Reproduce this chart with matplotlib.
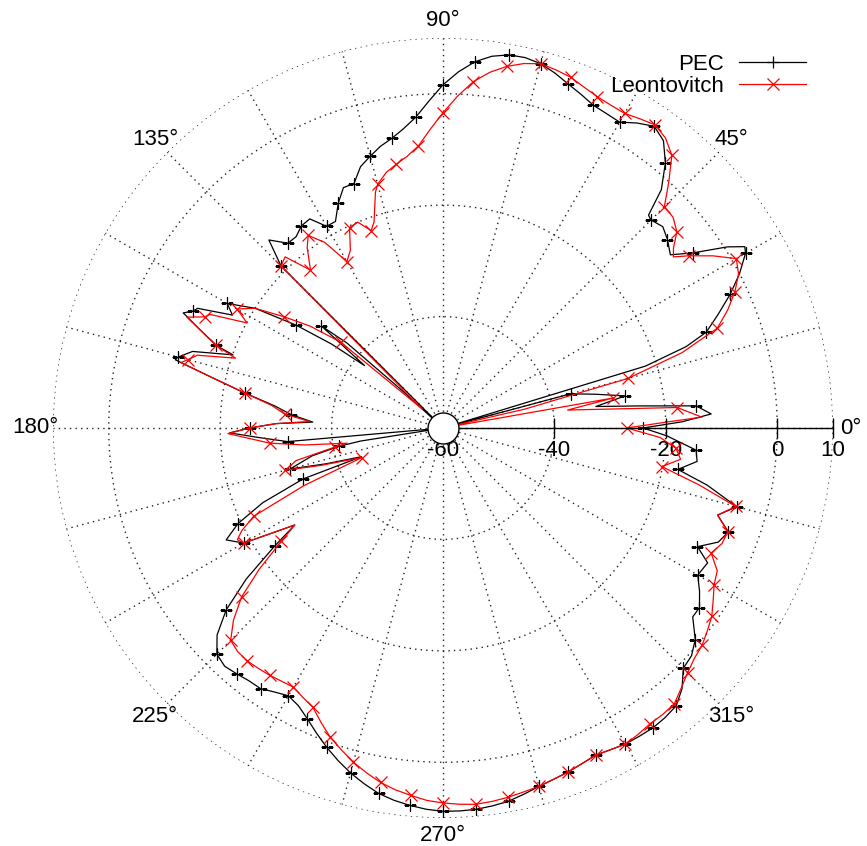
import numpy as np
import matplotlib
matplotlib.use("Agg")
import matplotlib.pyplot as plt
from matplotlib.lines import Line2D

# angle (deg) / level (dB)
pec_theta = [0, 1.5, 3, 5, 6.5, 8, 10, 12.5, 15, 16.5, 17, 18.5, 20, 22.5, 25, 27.5, 30, 31, 32.5, 35,
             37.3, 40, 42.5, 45, 46, 47.5, 50, 52.5, 55, 57.5, 60, 62.5, 65, 67.5, 70, 72.5, 75, 77.5,
             80, 82.5, 85, 87.5, 90, 92.5, 95, 97.5, 100, 102.5, 105, 107.5, 110, 112.5, 115, 117.5,
             120, 122.5, 125, 127.5, 130, 132.8, 135, 136, 137.5, 138.5, 140, 141.5, 143, 145, 147.5,
             150, 151.8, 154, 155, 156.1, 158, 160, 160.8, 163, 165, 165.7, 167.5, 170, 172.5, 175,
             177.4, 178.5, 180, 181.3, 183, 185, 187, 189, 190, 192, 195, 197, 199.4, 200, 202.5, 205,
             207.3, 210, 213.2, 215, 217.5, 220, 222.5, 225, 227.5, 230, 232.5, 235, 237.5, 240, 242.5,
             245, 247.5, 250, 252.5, 255, 257.5, 260, 262.5, 265, 267.5, 270, 272.5, 275, 277.5, 280,
             282.5, 285, 287.5, 290, 292.5, 295, 297.5, 300, 302.5, 305, 307.5, 310, 312.5, 315, 317.5,
             320, 322.9, 325, 327.5, 330, 333, 335, 337.5, 340, 342.4, 345, 347.8, 350, 352.5, 355,
             358, 360]
pec_db = [-24.1, -17, -11.8, -14.4, -25, -32.3, -26.8, -32, -36.3, -60, -22, -14, -9.7, -6.5, -3.1, 0, 2.7, 3.2, 0.5, -5.2,
          -8.7, -7.4, -6.5, -7.2, -6.9, -2, 2.1, 5, 6.1, 4.9, 3.4, 3.6, 3.9, 4.8, 5.7, 6.8, 7.7, 8.1,
          8.0, 7.3, 6.0, 4.0, 1.6, -1.3, -4.0, -5.8, -7.2, -8.2, -9.5, -10.8, -13.3, -13.3, -15.5, -18.2,
          -18.2, -15.5, -15.7, -16.7, -16.7, -14.0, -18.9, -60, -50, -37, -31.5, -42, -35, -27.8, -20,
          -15.3, -17.1, -11, -10.4, -9.0, -13, -16.7, -20.1, -13, -10.8, -10.4, -17, -23.9, -29.5, -32.7,
          -36.6, -30, -25.3, -21.7, -27, -32.0, -60, -45, -41, -36, -31.6, -38, -44.5, -33.3, -25, -19.4,
          -16.2, -18.7, -28.2, -23.2, -15.5, -9.2, -5, -2.6, -2, -2.4, -2.8, -2.9, -3.8, -4.5, -3.8,
          -2.4, -0.7, 1.0, 2.6, 4.1, 5.4, 6.6, 7.4, 8.0, 8.5, 8.8, 8.8, 8.7, 8.4, 8.0,
          7.3, 6.6, 6.1, 5.7, 5.2, 4.8, 5.1, 5.5, 5.6, 5.7, 5.5, 5.1, 3.5, 1.0, 0.5,
          -0.9, -3.8, -3.8, -5.4, -7.2, -6.7, -9.6, -6.5, -5.5, -8.3, -5.4, -11.5, -17.2, -14, -14.4,
          -19.8, -24.1]

leo_theta = [0, 1.5, 2.4, 5, 6.5, 8.2, 10, 12, 13, 15, 17.5, 20, 22.5, 25, 27.5, 30, 32.5, 35, 36.6, 38,
             40, 42.5, 45, 47.5, 50, 52.5, 55, 57.5, 60, 62.5, 65, 67.5, 70, 72.5, 75, 77.5, 80, 82.5,
             85, 87.5, 90, 92.5, 95, 97.5, 100, 102.5, 105, 106, 108.5, 110, 112.5, 115, 117.5, 120,
             122.5, 125, 127, 130, 132.7, 135, 137.5, 140, 142.5, 145, 147.5, 150, 151.8, 154, 155,
             156.6, 158, 160, 161.4, 163.5, 165, 166, 167.5, 170, 172.5, 175, 177.2, 178.5, 180, 181.5,
             183, 185, 187, 189, 190, 192.5, 195, 197, 200, 202.5, 205, 207, 208.5, 210, 213.2, 215,
             217.5, 220, 222.5, 225, 227.5, 230, 232.5, 235, 237.5, 240, 242.5, 245, 247.5, 250, 252.5,
             255, 257.5, 260, 262.5, 265, 267.5, 270, 272.5, 275, 277.5, 280, 282.5, 285, 287.5, 290,
             292.5, 295, 297.5, 300, 302.5, 305, 307.5, 310, 312.5, 315, 317.5, 320, 322.5, 325, 327.5,
             330, 332.5, 335, 337.5, 340, 342.4, 345, 347.5, 350, 352.5, 355, 357.5, 360]
leo_db = [-27.0, -20, -13.5, -17.8, -30, -37.4, -29, -60, -45, -25.6, -15, -7.6, -4.7, -2.2, -0.2, 0.8, -2.5, -6.1, -8.5, -7.5,
          -5.2, -4.0, -3.8, 0, 3.9, 5.6, 6.4, 5.8, 5.2, 5.3, 5.6, 6.2, 7.0, 7.4, 7.7, 7.0, 5.9, 4.4,
          2.4, -0.4, -3.4, -6.4, -9.2, -10.8, -11.9, -13.0, -14.7, -16, -21, -22.3, -20.0, -20.3, -24, -25.5,
          -20.5, -17.8, -19.5, -23.0, -18.2, -18.9, -55, -36, -30, -25.2, -20, -17.3, -20.1, -13.5, -12.8,
          -9.9, -13, -16.7, -20.7, -14, -12.6, -11.5, -17, -23.9, -29, -31.5, -36, -30, -25.3, -21.4,
          -25, -28.8, -35, -42.6, -40.3, -33, -30.7, -37, -44.5, -33, -22.5, -19.5, -18, -18.7, -28.2, -24.6,
          -18.5, -12.8, -9, -6.1, -5.5, -5.4, -5.6, -5.8, -6.1, -6.3, -5.5, -4.7, -2.8, -0.9, 0.6,
          2.1, 3.4, 4.6, 5.5, 6.2, 6.9, 7.3, 7.6, 7.8, 7.6, 7.3, 6.9, 6.6, 6.1, 5.7,
          5.2, 4.8, 5.1, 5.5, 5.2, 4.8, 4.8, 4.6, 3.3, 2.1, 1.2, 0.7, -0.2, -1.1, -2.5,
          -3.8, -4.5, -6.9, -5.8, -5.6, -8.3, -5.6, -13, -20.1, -17, -18.0, -21, -27.0]

r_ticks = [-60, -40, -20, 0, 10]
r_circles = [-40, -20, 0, 10]
theta_grid = list(range(0, 360, 15))
theta_labels = [f"{a}°" if a % 45 == 0 else "" for a in theta_grid]

plt.rcParams['font.family'] = ['Liberation Sans', 'DejaVu Sans']
FS = 16

fig = plt.figure(figsize=(8.67, 8.46), dpi=100)
ax = fig.add_axes([53 / 867, 28 / 846, 780 / 867, 780 / 846], projection='polar')
ax.set_rlim(-60, 10)
ax.set_thetagrids(theta_grid, theta_labels, fontsize=FS)
ax.set_rgrids(r_circles, labels=[''] * len(r_circles))
ax.grid(True, color='#222222', linewidth=1.0, linestyle=(0, (1, 3)))
ax.spines['polar'].set_visible(False)
ax.tick_params(axis='x', pad=2)

pt = np.radians(pec_theta)
lt = np.radians(leo_theta)
pec_mark = [i for i, a in enumerate(pec_theta) if a % 5 == 0 and a < 360]
leo_mark = [i for i, a in enumerate(leo_theta) if a % 5 == 0 and a < 360]

ax.plot(pt, pec_db, color='black', lw=0.9, marker='+', ms=9, mew=0.9,
        markevery=pec_mark, zorder=3)
ax.plot(lt, leo_db, color='red', lw=0.9, marker='x', ms=8, mew=0.9,
        markevery=leo_mark, zorder=4)

# radial axis along 0 deg
ax.plot([0, 0], [-60, 10], color='black', lw=1.0, zorder=5, clip_on=False)
ax.plot(np.zeros(len(r_ticks)), r_ticks, ls='none', marker='|', ms=15, mew=1.0,
        color='black', zorder=5, clip_on=False)
for r in r_ticks:
    ax.annotate(f"{r}", xy=(0, r), xytext=(0, -16.5), textcoords='offset points',
                ha='center', va='center', fontsize=FS)

# white disc at the origin
ax.plot([0], [-60], marker='o', ms=22.3, mfc='white', mec='black', mew=1.0,
        zorder=6, clip_on=False)

handles = [Line2D([], [], color='black', lw=0.9, marker='+', ms=9, mew=0.9),
           Line2D([], [], color='red', lw=0.9, marker='x', ms=8, mew=0.9)]
fig.legend(handles, ["PEC", "Leontovitch"], loc='upper right',
           bbox_to_anchor=(806 / 867, 1 - 54 / 846), frameon=False, markerfirst=False,
           handlelength=3.0, handletextpad=0.7, labelspacing=0.05, borderpad=0,
           borderaxespad=0, fontsize=FS)

fig.savefig("out.png", dpi=100)
